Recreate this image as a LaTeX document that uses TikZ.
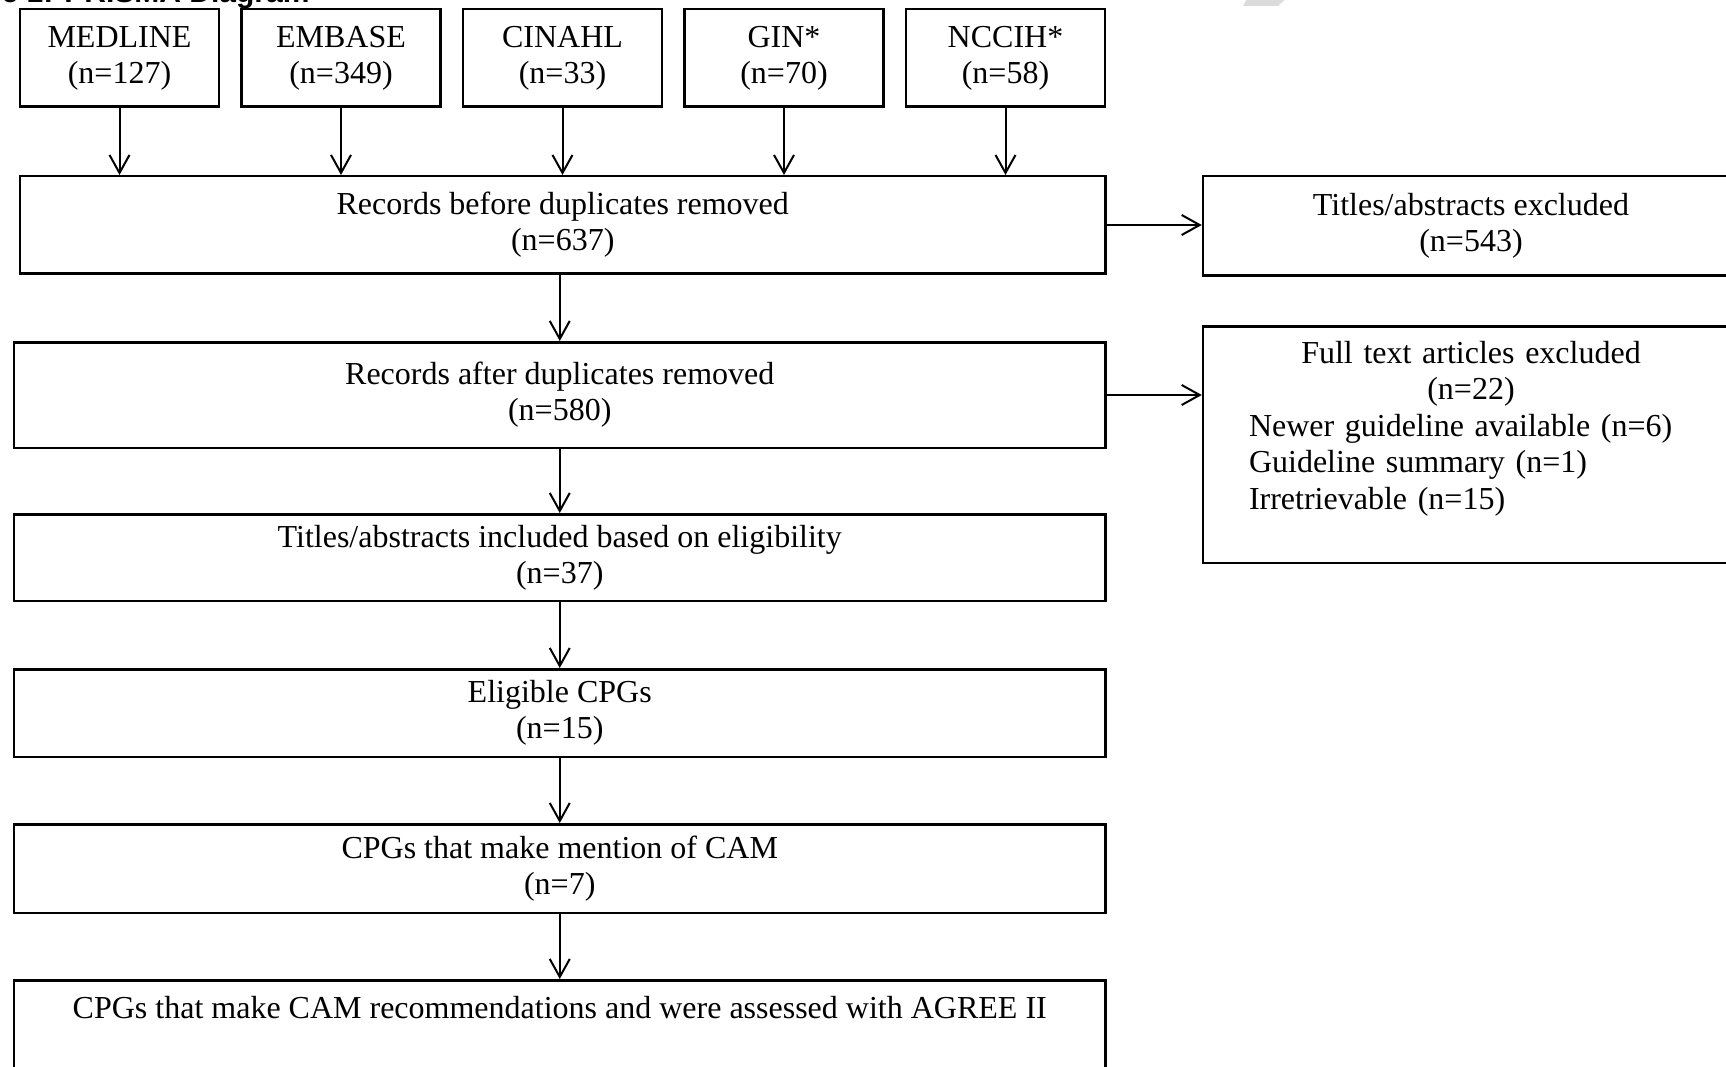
\documentclass[tikz,border=0pt]{standalone}
\usepackage{fontspec}
\setmainfont{Liberation Serif}
\newfontfamily\headfont{Liberation Sans}
\usetikzlibrary{positioning,arrows.meta}

\begin{document}
\begin{tikzpicture}[x=1pt,y=-1pt,
  src/.style = {draw, line width=2.5pt, minimum width=199pt, minimum height=97.5pt, align=center, font=\fontsize{32}{36}\selectfont},
  stage/.style = {draw, line width=2.5pt, minimum width=1091.5pt, align=center, font=\fontsize{32}{36}\selectfont},
  excl/.style = {draw, line width=2.5pt, minimum width=536pt, align=center, font=\fontsize{32}{36}\selectfont},
  link/.style = {->, line width=2pt},
  node distance=20pt,
  >={Straight Barb[length=18pt,width=20pt]}]
  \useasboundingbox (0,0) rectangle (1726,1067);
  \clip (0,0) rectangle (1726,1067);

  \node[font=\headfont\bfseries\fontsize{30}{36}\selectfont, anchor=base east] (title) at (313,2.7) {Figure 1: PRISMA Diagram};
  \fill[gray!28] (1249,-5) -- (1290,-5) -- (1278,6) -- (1243,6) -- cycle;

  \node[src] (medline) at (119.5,58) {MEDLINE\\(n=127)};
  \node[src] (embase) [right=of medline] {EMBASE\\(n=349)};
  \node[src] (cinahl) [right=of embase] {CINAHL\\(n=33)};
  \node[src] (gin) [right=of cinahl] {GIN*\\(n=70)};
  \node[src] (nccih) [right=of gin] {NCCIH*\\(n=58)};

  \node[stage, minimum width=1085.5pt, minimum height=97.5pt] (before) [below=67pt of medline.south west, anchor=north west] {Records before duplicates removed\\(n=637)};
  \node[stage, minimum height=105.5pt] (after) [below=66pt of before.south east, anchor=north east] {Records after duplicates removed\\(n=580)};
  \node[stage, minimum height=86.5pt] (included) [below=64pt of after] {Titles/abstracts included based on eligibility\\(n=37)};
  \node[stage, minimum height=87.5pt] (eligible) [below=66pt of included] {Eligible CPGs\\(n=15)};
  \node[stage, minimum height=88.5pt] (mention) [below=65pt of eligible] {CPGs that make mention of CAM\\(n=7)};
  \node[stage, minimum height=120pt, inner ysep=14pt, text height=24pt, text depth=68pt] (assessed) [below=65pt of mention] {CPGs that make CAM recommendations and were assessed with AGREE II};

  \node[excl, minimum height=99.5pt] (absexcl) [right=95pt of before.north east, anchor=north west] {Titles/abstracts excluded\\(n=543)};
  \node[excl, minimum height=236.5pt, text width=444pt, inner xsep=46pt, inner ysep=13pt, text height=24pt, text depth=186.5pt, align=left, font=\fontsize{32}{36.5}\selectfont] (ftexcl) [right=95pt of after.north east, anchor=north west, yshift=16pt] {\makebox[444pt]{Full text articles excluded}\\ \makebox[444pt]{(n=22)}\\ Newer guideline available (n=6)\\ Guideline summary (n=1)\\ Irretrievable (n=15)};

  \foreach \s in {medline,embase,cinahl,gin,nccih}
    \draw[link] (\s.south) -- (\s.south |- before.north);
  \draw[link] (before.south -| after.north) -- (after.north);
  \draw[link] (after) -- (included);
  \draw[link] (included) -- (eligible);
  \draw[link] (eligible) -- (mention);
  \draw[link] (mention) -- (assessed);
  \draw[link] (before.east) -- (before.east -| absexcl.west);
  \draw[link] (after.east) -- (after.east -| ftexcl.west);
\end{tikzpicture}
\end{document}
